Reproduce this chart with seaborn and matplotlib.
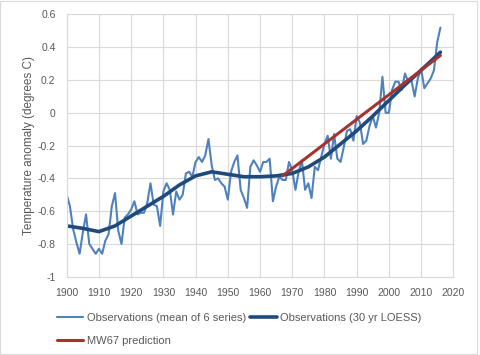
import numpy as np
import pandas as pd
import seaborn as sns
import matplotlib.pyplot as plt
from matplotlib.lines import Line2D
from matplotlib.patches import Rectangle

# Observations: mean of 6 series, annual, 1900-2016
obs_years = list(range(1900, 2017))
obs_values = [
    -0.50, -0.57, -0.71, -0.79, -0.86, -0.73, -0.62, -0.80, -0.83, -0.86,
    -0.83, -0.86, -0.78, -0.74, -0.57, -0.49, -0.72, -0.80, -0.64, -0.62,
    -0.59, -0.54, -0.62, -0.61, -0.61, -0.55, -0.43, -0.56, -0.57, -0.69,
    -0.48, -0.43, -0.47, -0.62, -0.48, -0.53, -0.50, -0.37, -0.36, -0.39,
    -0.30, -0.27, -0.30, -0.26, -0.16, -0.32, -0.41, -0.40, -0.43, -0.45,
    -0.53, -0.36, -0.30, -0.26, -0.47, -0.52, -0.58, -0.33, -0.29, -0.32,
    -0.36, -0.30, -0.30, -0.28, -0.54, -0.45, -0.39, -0.41, -0.41, -0.30,
    -0.35, -0.47, -0.36, -0.29, -0.47, -0.43, -0.52, -0.33, -0.35, -0.27,
    -0.19, -0.14, -0.28, -0.13, -0.28, -0.30, -0.21, -0.11, -0.10, -0.17,
    -0.02, -0.06, -0.19, -0.17, -0.08, -0.02, -0.09, 0.00, 0.22, 0.00,
    0.00, 0.14, 0.19, 0.19, 0.14, 0.24, 0.19, 0.20, 0.10, 0.21,
    0.27, 0.15, 0.18, 0.21, 0.26, 0.43, 0.52,
]

# 30 yr LOESS smooth (read at 5-year steps)
loess_years = [1900, 1905, 1910, 1915, 1920, 1925, 1930, 1935, 1940, 1945, 1950,
               1955, 1960, 1965, 1970, 1975, 1980, 1985, 1990, 1995, 2000,
               2005, 2010, 2016]
loess_values = [-0.69, -0.705, -0.725, -0.69, -0.63, -0.57, -0.51, -0.44, -0.385,
                -0.36, -0.375, -0.39, -0.39, -0.385, -0.37, -0.33, -0.27, -0.19,
                -0.11, -0.02, 0.075, 0.17, 0.26, 0.37]

# MW67 prediction
mw67_years = [1967, 2016]
mw67_values = [-0.385, 0.35]

y_ticks = [-1, -0.8, -0.6, -0.4, -0.2, 0, 0.2, 0.4, 0.6]
y_labels = ['-1', '-0.8', '-0.6', '-0.4', '-0.2', '0', '0.2', '0.4', '0.6']
x_ticks = list(range(1900, 2021, 10))

sns.set_theme(style="white")
plt.rcParams['font.family'] = ['Liberation Sans', 'DejaVu Sans']

c_obs = '#4f81bd'
c_loess = '#1f4a7c'
c_mw = '#a5332f'
grid_c = '#d9d9d9'
text_c = '#595959'

fig = plt.figure(figsize=(4.81, 3.55), dpi=100)
ax = fig.add_axes([0.1387, 0.2206, 0.8037, 0.7386])

sns.lineplot(x=obs_years, y=obs_values, ax=ax, color=c_obs, linewidth=1.5)
sns.lineplot(x=loess_years, y=loess_values, ax=ax, color=c_loess, linewidth=2.6)
sns.lineplot(x=mw67_years, y=mw67_values, ax=ax, color=c_mw, linewidth=2.2)

ax.set_xlim(1900, 2020)
ax.set_ylim(-1, 0.6)
ax.set_xticks(x_ticks)
ax.set_xticklabels([str(x) for x in x_ticks])
ax.set_yticks(y_ticks)
ax.set_yticklabels(y_labels)
ax.grid(True, color=grid_c, linewidth=0.8)
ax.set_axisbelow(True)
for s in ax.spines.values():
    s.set_color(grid_c)
    s.set_linewidth(0.8)
ax.tick_params(axis='both', length=0, labelsize=7.5, labelcolor=text_c)
ax.tick_params(axis='y', pad=8)
ax.tick_params(axis='x', pad=8)
ax.set_xlabel('')
ax.set_ylabel('Temperature anomaly (degrees C)', fontsize=8.5, color=text_c, labelpad=2)

handles = [
    Line2D([], [], color=c_obs, linewidth=1.5),
    Line2D([], [], color=c_mw, linewidth=2.2),
    Line2D([], [], color=c_loess, linewidth=2.6),
]
labels = ['Observations (mean of 6 series)', 'MW67 prediction', 'Observations (30 yr LOESS)']
leg = fig.legend(handles, labels, ncol=2, loc='upper left', bbox_to_anchor=(0.118, 0.118),
                 frameon=False, fontsize=8, handlelength=2.4, handletextpad=0.3,
                 columnspacing=0.35, labelspacing=1.15, borderaxespad=0, borderpad=0)
for t in leg.get_texts():
    t.set_color(text_c)

fig.patches.append(Rectangle((0.001, 0.002), 0.99, 0.995, transform=fig.transFigure,
                             fill=False, edgecolor=grid_c, linewidth=0.8))

fig.savefig('out.png', dpi=100)
